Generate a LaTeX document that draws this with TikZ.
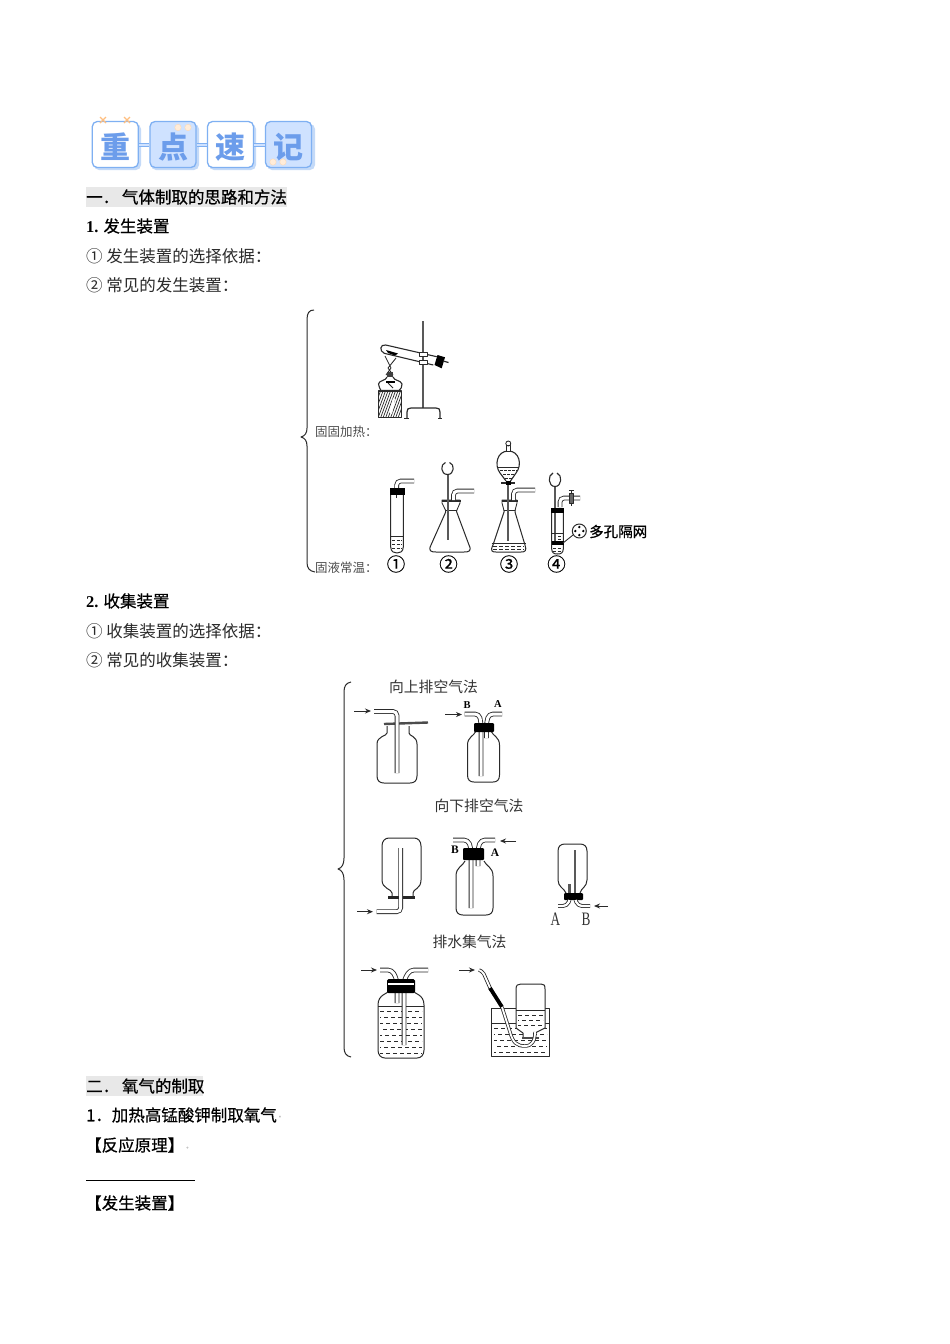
\documentclass[tikz,border=0pt]{standalone}
\usepackage{fontspec}
\setmainfont{Liberation Serif}
\newfontfamily\cjkfont{Noto Sans CJK SC}
\newfontfamily\cjkhead[FakeBold=0.6]{Noto Sans CJK SC}
\usetikzlibrary{arrows.meta,positioning}
\definecolor{inkgray}{HTML}{2A2A2A}
\definecolor{headbg}{HTML}{E8E8E8}
\definecolor{badgeline}{HTML}{7FB0F2}
\definecolor{badgeshade}{HTML}{C4DAF8}
\definecolor{badgefill}{HTML}{CFE2FF}
\definecolor{badgetext}{HTML}{6C9DEB}
\newcommand{\badgechar}[1]{\raisebox{-14.4pt}[0pt][0pt]{#1}}
\tikzset{
  bodytext/.style={anchor=west,inner sep=0pt,text=inkgray,font=\fontsize{16.5}{18}\selectfont\cjkfont},
  headtext/.style={anchor=west,inner sep=0pt,text=black,font=\fontsize{16.5}{18}\selectfont\cjkhead},
  lefttext/.style={anchor=west,inner sep=0pt,text=black!70,font=\fontsize{12.5}{14}\selectfont\cjkfont},
  methodtext/.style={anchor=center,inner sep=0pt,text=black!80,font=\fontsize{14.8}{16}\selectfont\cjkfont},
  badge/.style={draw=badgeline,line width=1.3pt,rounded corners=5pt,minimum width=46pt,minimum height=46pt,inner sep=0pt,text=badgetext,font=\fontsize{30}{32}\selectfont\cjkfont\bfseries},
  glass/.style={draw=inkgray,line width=.85pt,line join=round},
  stem/.style={draw=black!65,line width=2pt},
  pipe/.style={draw=inkgray,double=white,double distance=3pt,line width=.85pt,rounded corners=4pt},
  inarrow/.style={draw=inkgray,line width=.9pt,-{Stealth[length=6pt,width=5pt]}},
  waterline/.style={draw=inkgray,line width=.8pt,dash pattern=on 4pt off 3pt},
  letter/.style={inner sep=0pt,text=black,font=\fontsize{10.5}{11}\selectfont\bfseries},
  tallletter/.style={inner sep=0pt,text=black!80,xscale=.7,font=\fontsize{19}{20}\selectfont},
  circlenum/.style={inner sep=0pt,text=black,font=\fontsize{18.5}{19}\selectfont\cjkhead}
}
\begin{document}
\begin{tikzpicture}[x=1pt,y=-1pt]
\useasboundingbox (0,0) rectangle (950,1344);
\fill[white] (0,0) rectangle (950,1344);
% badge row
\fill[badgeshade,rounded corners=5pt] (94,124) rectangle (141,170);
\fill[badgeshade,rounded corners=5pt] (151,124) rectangle (199,170);
\fill[badgeshade,rounded corners=5pt] (209,124) rectangle (256,170);
\fill[badgeshade,rounded corners=5pt] (267,124) rectangle (315,170);
\node[badge,fill=white] (zhong) at (115.3,144.5) {\badgechar{重}};
\node[badge,fill=badgefill] (dian) at (173,144.5) {\badgechar{点}};
\node[badge,fill=white] (su) at (230.5,144.5) {\badgechar{速}};
\node[badge,fill=badgefill] (ji) at (288.5,144.5) {\badgechar{记}};
\draw[badgeline,line width=1pt,double=badgefill,double distance=2pt] (zhong) -- (dian);
\draw[badgeline,line width=1pt,double=badgefill,double distance=2pt] (dian) -- (su);
\draw[badgeline,line width=1pt,double=badgefill,double distance=2pt] (su) -- (ji);
\draw[orange!50,line width=1.3pt] (100,117) -- (106,123) (106,117) -- (100,123);
\draw[orange!50,line width=1.3pt] (124,117) -- (130,123) (130,117) -- (124,123);
\fill[orange!15,draw=orange!30] (178,127.5) circle (3.2);
\fill[orange!15,draw=orange!30] (188,127.5) circle (3.2);
\fill[orange!15,draw=orange!30] (273,162) circle (3.2);
\fill[orange!15,draw=orange!30] (283,162) circle (3.2);
% section one
\fill[headbg] (86,187) rectangle (287,207);
\node[headtext] (titleone) at (86,197) {一．\,气体制取的思路和方法};
\node[headtext] (headfa) at (86,226) {{\rmfamily\bfseries 1.} 发生装置};
\node[bodytext] (fabasis) at (86,256.5) {① 发生装置的选择依据：};
\node[bodytext] (fakinds) at (86,285.5) {② 常见的发生装置：};
% first brace
\draw[glass,line width=1pt] (314,310) .. controls (309,310) and (307,313) .. (307,320) -- (307,428) .. controls (307,433) and (305,436) .. (301,437) .. controls (305,438) and (307,441) .. (307,446) -- (307,562) .. controls (307,568) and (309,571) .. (315,572);
\node[lefttext] (solidheat) at (315,431.5) {固固加热：};
\node[lefttext] (solidliquid) at (315,568) {固液常温：};
% heating set
\draw[stem] (422.7,321) -- (422.7,408);
\draw[glass,line width=1.2pt] (407,418) -- (407,412) .. controls (407,409) and (408,408) .. (411,408) -- (436,408) .. controls (439,408) and (440,409) .. (440,412) -- (440,418);
\draw[glass] (404,418) -- (409,418) (438,418) -- (442,418);
\draw[glass,line width=1.1pt] (436.7,356.7) -- (385.7,345) .. controls (380,344) and (379,351) .. (384.3,353.3) -- (433.3,365);
\fill[black] (386,350) -- (398,353.5) -- (395,355.5) -- (388,353) -- cycle;
\fill[black] (437.5,355) -- (445,357.3) -- (441.7,368.3) -- (434.5,365) -- cycle;
\draw[glass,line width=1.2pt] (443,361) -- (448.5,362.5);
\draw[glass,fill=white] (419,352.5) rectangle (427,356);
\draw[glass,fill=white] (419,360.5) rectangle (427,364);
\draw[glass] (385,356) -- (391,368) -- (386,375) (396,358) -- (388,368) -- (393,375);
\fill[black!75] (387,371.5) rectangle (393,377);
\draw[glass,line width=1.1pt] (387,377) .. controls (386,381) and (379,380) .. (378.5,384) .. controls (379,387) and (380,389) .. (381,390.5) -- (399,390.5) .. controls (401,389) and (402,387) .. (402,384) .. controls (401,380) and (394,381) .. (393,377);
\draw[glass] (388,383) -- (393,388);
\fill[black] (386,381) rectangle (395,382.5);
\draw[glass,line width=1.1pt] (378.3,391) rectangle (401.7,417.7);
\begin{scope}
\clip (378.3,391) rectangle (401.7,417.7);
\foreach \hatchx in {378,380.5,...,408} \draw[glass,line width=.7pt] (\hatchx,391) -- (\hatchx-10,418);
\fill[white] (389,412) -- (393,398) -- (395,399) -- (392,414) -- cycle;
\end{scope}
% tube one
\draw[glass,line width=1pt] (390.7,494) -- (390.7,547) .. controls (391,552) and (394,553) .. (397,553) .. controls (400,553) and (403,552) .. (403.3,547) -- (403.3,494);
\draw[pipe] (396.7,490) -- (396.7,481) -- (414,481);
\fill[black] (389.5,488) rectangle (404.5,495);
\draw[glass] (396,495) -- (396,498);
\draw[glass] (391,536.5) -- (403,536.5);
\foreach \wy in {540,544,548} \draw[waterline,dash pattern=on 3pt off 1.5pt] (392,\wy) -- (402,\wy);
\node[circlenum] (numone) at (396,564) {①};
% flask two
\draw[glass,line width=1pt] (445.7,505) -- (445.7,512) -- (431,545) .. controls (428,551) and (431,552) .. (436,552) -- (464,552) .. controls (469,552) and (472,551) .. (469,545) -- (456.7,512) -- (456.7,505);
\draw[glass,fill=white] (442,500) -- (460,500) -- (460,503) -- (456.7,510.5) -- (445.7,510.5) -- (442,503) -- cycle;
\draw[glass,line width=1.6pt] (441.5,501) -- (460.5,501);
\draw[stem] (447.8,473) -- (447.8,540);
\draw[glass,line width=1.1pt,fill=white] (445.5,462.5) .. controls (440,464) and (440.5,474.5) .. (447.5,474.5) .. controls (454.5,474.5) and (455,464) .. (449.5,462.5);
\draw[pipe] (453.5,500) -- (453.5,491) -- (474,491);
\node[circlenum] (numtwo) at (448.5,564) {②};
% flask three
\draw[glass,line width=1pt] (504,505) -- (504,512) -- (493,545) .. controls (490,551) and (492,552) .. (496,552) -- (521,552) .. controls (525,552) and (527,551) .. (525,545) -- (515,512) -- (515,505);
\draw[glass,fill=white] (502,500) -- (517,500) -- (517,503) -- (515,510.5) -- (504,510.5) -- (502,503) -- cycle;
\draw[glass,line width=1.6pt] (501.5,501) -- (517.5,501);
\draw[stem] (508.3,478) -- (508.3,541);
\draw[pipe] (513.5,500) -- (513.5,490) -- (535,490);
\draw[glass,fill=white,line width=1.1pt] (506,481) -- (500,473) .. controls (494,465) and (497,451) .. (508.3,451) .. controls (519.5,451) and (522.5,465) .. (516,473) -- (510.5,481);
\draw[glass] (498,467) -- (518.5,467);
\foreach \wy/\wa/\wb in {470/500/517,474/503/514,478/505/512} \draw[waterline,dash pattern=on 2.5pt off 1.5pt] (\wa,\wy) -- (\wb,\wy);
\draw[glass,fill=white] (506,445) rectangle (510.5,451);
\draw[glass] (508.3,443.5) circle (2.5);
\draw[glass,line width=1.2pt] (501,483) -- (515,483);
\fill[black] (505.5,481) rectangle (511,485);
\draw[glass] (491.5,543) -- (526,543);
\foreach \wy in {546,549.5} \draw[waterline,dash pattern=on 4pt off 2pt] (493,\wy) -- (524,\wy);
\node[circlenum] (numthree) at (509,564) {③};
% tube four
\draw[glass,line width=1pt] (551.7,510) -- (551.7,549) .. controls (552,553) and (554,554) .. (557.5,554) .. controls (561,554) and (563,553) .. (563.3,549) -- (563.3,510);
\draw[stem] (555,485) -- (555,541);
\draw[glass,line width=1.1pt,fill=white] (553,473) .. controls (547.5,475) and (548,486.5) .. (555,486.5) .. controls (562,486.5) and (562.5,475) .. (557,473);
\draw[pipe] (560,507) -- (560,498) -- (580,498);
\draw[glass,fill=black!60] (569.5,493.5) rectangle (573.5,503);
\draw[glass] (571.5,490.5) -- (571.5,493.5) (569,490.5) -- (574,490.5) (571.5,503) -- (571.5,506);
\fill[black] (551,507.5) rectangle (564,513);
\draw[glass] (552,533) -- (563,533);
\foreach \wy in {536,539} \draw[waterline,dash pattern=on 3pt off 1.5pt] (558,\wy) -- (562.5,\wy);
\fill[black] (551.5,540.5) rectangle (563.5,545);
\foreach \wy in {548,551} \draw[waterline,dash pattern=on 3pt off 1.5pt] (553,\wy) -- (562,\wy);
\draw[glass] (563,543) -- (573,535);
\draw[glass,line width=1pt] (579.3,531) circle (7);
\fill[black] (579.3,527) circle (1.3) (579.3,535) circle (1.3) (575.3,531) circle (1.3) (583.3,531) circle (1.3);
\node[inner sep=0pt,anchor=west,font=\fontsize{14.5}{16}\selectfont\cjkhead] (meshlabel) at (589,531.5) {多孔隔网};
\node[circlenum] (numfour) at (556.5,564) {④};
% section collect
\node[headtext] (headshou) at (86,601) {{\rmfamily\bfseries 2.} 收集装置};
\node[bodytext] (shoubasis) at (86,631.5) {① 收集装置的选择依据：};
\node[bodytext] (shoukinds) at (86,660.5) {② 常见的收集装置：};
% second brace
\draw[glass,line width=1pt] (351,682) .. controls (346,683) and (344,686) .. (344,692) -- (344,858) .. controls (344,864) and (342,868) .. (338,869) .. controls (342,870) and (344,874) .. (344,880) -- (344,1047) .. controls (344,1053) and (346,1056) .. (351,1057);
\node[methodtext] (upward) at (433.5,687) {向上排空气法};
\node[methodtext] (downward) at (479,806) {向下排空气法};
\node[methodtext] (water) at (469.5,942) {排水集气法};
% bottle plate
\draw[inarrow] (354,711) -- (371,711);
\draw[glass,line width=1pt] (387,726) -- (387,733) .. controls (387,736) and (377,736) .. (377,744) -- (377,776) .. controls (377,781) and (380,783) .. (384,783) -- (410,783) .. controls (414,783) and (417,781) .. (417,776) -- (417,744) .. controls (417,736) and (409,736) .. (409,733) -- (409,726);
\draw[glass,draw=black!70,line width=2.4pt] (384,724) -- (428,722.5);
\draw[pipe] (374,711.5) -- (397,711.5) -- (397,773);
% bottle up AB
\draw[inarrow] (445,714.5) -- (462,714.5);
\draw[glass,line width=1pt] (476,731) .. controls (474,736) and (467.5,737) .. (467.5,745) -- (467.5,775) .. controls (467.5,780) and (470,782) .. (474,782) -- (493,782) .. controls (497,782) and (499.5,780) .. (499.5,775) -- (499.5,745) .. controls (499.5,737) and (493,736) .. (491,731);
\draw[pipe] (464.5,714) -- (479,714) -- (481,722) -- (481,776);
\draw[pipe] (502,714) -- (489,714) -- (486.5,722) -- (486.5,738);
\fill[black,rounded corners=1pt] (474,723) rectangle (494,732);
\node[letter] (upB) at (467,705) {B};
\node[letter] (upA) at (498,704.5) {A};
% bottle inverted plate
\draw[glass,line width=1pt] (392,897) -- (392,893) .. controls (392,889) and (382,889) .. (382,880) -- (382,846) .. controls (382,841) and (385,838) .. (389,838) -- (414,838) .. controls (418,838) and (421,841) .. (421,846) -- (421,880) .. controls (421,889) and (413,889) .. (413,893) -- (413,897);
\draw[glass,draw=black!85,line width=2.2pt,rounded corners=1pt] (388,897.5) -- (415,897.5);
\draw[pipe] (400.7,848) -- (400.7,911.7) -- (376.7,911.7);
\draw[inarrow] (357,911.7) -- (373,911.7);
% bottle down AB
\draw[glass,line width=1pt] (465,861) .. controls (463,866) and (456,867) .. (456,876) -- (456,908) .. controls (456,913) and (459,915) .. (463,915) -- (486,915) .. controls (490,915) and (493,913) .. (493,908) -- (493,876) .. controls (493,867) and (486,866) .. (484,861);
\draw[pipe] (453,840) -- (468,840) -- (471,848) -- (471,908);
\draw[pipe] (495,840) -- (481,840) -- (478,848) -- (478,866);
\fill[black,rounded corners=1pt] (463,848) rectangle (484,860);
\draw[inarrow] (516,841) -- (500,841);
\node[letter,font=\fontsize{11.5}{12}\selectfont\bfseries] (downB) at (455,850) {B};
\node[letter,font=\fontsize{11.5}{12}\selectfont\bfseries] (downA) at (495,852.5) {A};
% bottle small inverted
\draw[glass,line width=1pt] (566,893) .. controls (564,888) and (558,887) .. (558,880) -- (558,851) .. controls (558,846) and (561,844) .. (565,844) -- (580,844) .. controls (584,844) and (587,846) .. (587,851) -- (587,880) .. controls (587,887) and (581,888) .. (580,893);
\draw[stem,line width=1.8pt] (575,850) -- (575,893);
\draw[stem,line width=2.6pt] (569.5,884) -- (569.5,893);
\fill[black,rounded corners=1pt] (564,893) rectangle (583,900);
\draw[pipe,double distance=2.2pt] (558,906) -- (567,906) -- (569.5,900);
\draw[pipe,double distance=2.2pt] (590,906) -- (578,906) -- (575.5,900);
\draw[inarrow] (608,906) -- (594,906);
\node[tallletter] (smallA) at (555.5,919) {A};
\node[tallletter] (smallB) at (586,919) {B};
% bottle water
\draw[inarrow] (361,970) -- (377,970);
\draw[glass,line width=1pt] (390,990) .. controls (388,994) and (378,994) .. (378,1005) -- (378,1050) .. controls (378,1055) and (381,1058) .. (385,1058) -- (417,1058) .. controls (421,1058) and (424,1055) .. (424,1050) -- (424,1005) .. controls (424,994) and (414,994) .. (412,990);
\draw[glass] (378,1006) -- (424,1006);
\foreach \wy/\wp in {1011/0,1017/3,1023/1,1029/4,1035/2,1041/0,1047/3,1053/1} \draw[waterline,dash phase=\wp] (380,\wy) -- (422,\wy);
\draw[pipe] (380,970) -- (392,970) -- (397,980) -- (397,1003);
\draw[pipe] (428,970) -- (410,970) -- (404,980) -- (404,1045);
\fill[black,rounded corners=1.5pt] (387,979) rectangle (415,993);
\fill[white] (388,983) rectangle (414,984.5);
% trough
\draw[inarrow] (459,970) -- (475,970);
\draw[glass,line width=1pt] (491.7,1008) -- (491.7,1056) -- (549,1056) -- (549,1008) -- cycle;
\draw[glass] (491.7,1023) -- (515.5,1023) (545,1023) -- (549,1023);
\foreach \wy/\wp in {1028/0,1034/3,1040/1,1046/4,1052/2} \draw[waterline,dash phase=\wp] (494,\wy) -- (547,\wy);
\draw[glass,fill=white,line width=1pt] (523,1037) -- (523,1033) -- (516,1028) -- (516,989) .. controls (516,985) and (518,984) .. (521,984) -- (541,984) .. controls (544,984) and (545,985) .. (545,989) -- (545,1028) -- (535,1033) -- (535,1037);
\draw[glass] (516,1010) -- (545,1010);
\foreach \wy/\wp in {1015/0,1020/3,1025/1} \draw[waterline,dash phase=\wp] (518,\wy) -- (543,\wy);
\draw[glass,line width=1.4pt,draw=black!70] (522,1038) -- (539,1038);
\draw[pipe,double distance=1.8pt,rounded corners=2pt] (479,970) -- (483,972) -- (491,990);
\draw[glass,line width=3.8pt,draw=black] (490,988) -- (502,1007);
\draw[draw=inkgray,double=white,double distance=1.8pt,line width=.8pt] (502,1007) -- (510,1032) .. controls (513,1043) and (517,1046) .. (525,1046) .. controls (532,1046) and (535,1041) .. (535,1032);
% section two
\fill[headbg] (86,1076) rectangle (203,1096);
\node[headtext] (titletwo) at (86,1086) {二．\,氧气的制取};
\node[headtext] (headpot) at (86,1115) {1．加热高锰酸钾制取氧气};
\node[inner sep=0pt,font=\fontsize{5}{6}\selectfont\cjkfont,text=black!70] (markone) at (281.5,1117) {。};
\node[headtext,xshift=-1pt] (principle) at (86,1145) {【反应原理】};
\node[inner sep=0pt,font=\fontsize{5}{6}\selectfont\cjkfont,text=black!70] (marktwo) at (189,1148) {。};
\draw[black,line width=.8pt] (86,1180.5) -- (195,1180.5);
\node[headtext,xshift=-1pt] (device) at (86,1203) {【发生装置】};
\end{tikzpicture}
\end{document}
